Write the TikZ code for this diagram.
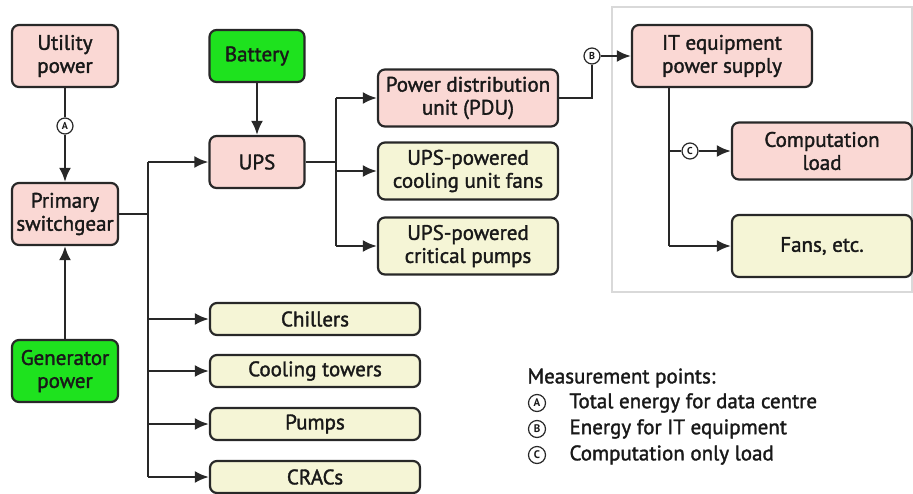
\documentclass[tikz,border=0pt]{standalone}
\usepackage{fontspec}
\setmainfont{PT Sans}[UprightFeatures={FakeBold=1.6}]
\usepackage{tikz}
\usetikzlibrary{shapes, arrows, calc, positioning, backgrounds, fit}
\usetikzlibrary{arrows.meta}

\definecolor{pinkbox}{RGB}{250,216,212}
\definecolor{greenbox}{RGB}{30,226,30}
\definecolor{creambox}{RGB}{245,245,214}
\definecolor{edgegray}{RGB}{40,40,40}

\begin{document}
\begin{tikzpicture}[
      x=1pt, y=-1pt,
      every node/.style={font=\fontsize{21}{23}\selectfont, text=black!90},
      box/.style={rectangle, draw=edgegray, line width=2.2pt, rounded corners=7pt, align=center, inner sep=1pt},
      source/.style={box, fill=pinkbox, minimum width=106pt, minimum height=62pt},
      backup/.style={box, fill=greenbox},
      stage/.style={box, fill=pinkbox, minimum width=180pt, minimum height=57pt},
      load/.style={box, fill=creambox, minimum width=180pt, minimum height=57pt},
      plant/.style={box, fill=creambox, minimum width=210pt, minimum height=32pt},
      meter/.style={circle, draw=edgegray, fill=white, line width=1.2pt, inner sep=0pt, minimum size=16pt, font=\fontsize{10}{10}\selectfont\bfseries},
      keymark/.style={circle, draw=edgegray, line width=1.2pt, inner sep=0pt, minimum size=17pt, font=\fontsize{11}{11}\selectfont\bfseries},
      wire/.style={draw=edgegray, line width=2.5pt},
      feed/.style={wire, -{Latex[length=14pt, width=12pt]}}
    ]
    \useasboundingbox (0,0) rectangle (913,493);

    % IT equipment area
    \draw[black!15, line width=1.5pt] (612,7) rectangle (912,292);

    % supplies
    \node[source] (util) at (65,56) {Utility\\power};
    \node[source] (sw) at (65,214) {Primary\\switchgear};
    \node[backup, minimum width=106pt, minimum height=62pt] (gen) at (65,371) {Generator\\power};
    \node[backup, minimum width=95pt, minimum height=52pt] (batt) at (257,56) {Battery};
    \node[source, minimum width=95pt, minimum height=52pt] (ups) at (257,162) {UPS};

    % UPS outputs
    \node[stage] (pdu) at (468,98) {Power distribution\\unit (PDU)};
    \node[load] (fanunit) at (468,171) {UPS-powered\\cooling unit fans};
    \node[load] (critpump) at (468,246) {UPS-powered\\critical pumps};

    % plant loads
    \node[plant] (chill) at (315,319) {Chillers};
    \node[plant] (tower) at (315,371) {Cooling towers};
    \node[plant] (pump) at (315,424) {Pumps};
    \node[plant] (crac) at (315,477) {CRACs};

    % IT equipment
    \node[stage, minimum height=62pt] (itps) at (722,56) {IT equipment\\power supply};
    \node[stage] (comp) at (822,151) {Computation\\load};
    \node[load, minimum height=62pt] (itfans) at (822,246) {Fans, etc.};

    % measurement points
    \node[meter] (mA) at (65,126) {A};
    \node[meter] (mB) at (592,56) {B};
    \node[meter] (mC) at (690,151) {C};

    % bus points
    \coordinate (swbus) at (148,214);
    \coordinate (upsbus) at (336,162);
    \coordinate (itbus) at ($(itps.south west)+(38,0)$);

    % connectors
    \draw[wire] (util) -- (mA);
    \draw[feed] (mA) -- (sw);
    \draw[feed] (gen) -- (sw);
    \draw[feed] (batt) -- (ups);
    \draw[wire] (sw.east) -- (swbus);
    \draw[wire] (swbus |- ups.west) -- (swbus |- crac.west);
    \foreach \dest in {ups, chill, tower, pump, crac}
      \draw[feed] (swbus |- \dest.west) -- (\dest.west);
    \draw[wire] (ups.east) -- (upsbus);
    \draw[wire] (upsbus |- pdu.west) -- (upsbus |- critpump.west);
    \foreach \dest in {pdu, fanunit, critpump}
      \draw[feed] (upsbus |- \dest.west) -- (\dest.west);
    \draw[wire] (pdu.east) -| (mB.south);
    \draw[feed] (mB) -- (itps);
    \draw[wire] (itbus) -- (itbus |- itfans.west);
    \draw[wire] (itbus |- mC) -- (mC);
    \draw[feed] (mC) -- (comp);
    \draw[feed] (itbus |- itfans.west) -- (itfans.west);

    % key
    \node[anchor=west] (keytitle) at (524,378) {Measurement points:};
    \node[keymark] (keyA) at (537,403) {A};
    \node[keymark] (keyB) at (537,429) {B};
    \node[keymark] (keyC) at (537,455) {C};
    \node[anchor=west] (keyAtxt) at (566,403) {Total energy for data centre};
    \node[anchor=west] (keyBtxt) at (566,429) {Energy for IT equipment};
    \node[anchor=west] (keyCtxt) at (566,455) {Computation only load};
\end{tikzpicture}
\end{document}
